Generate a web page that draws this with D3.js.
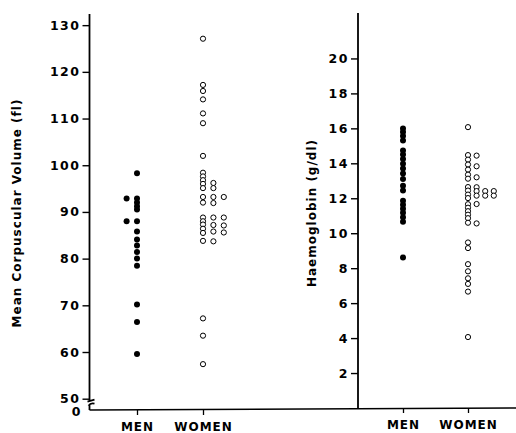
<!DOCTYPE html>
<html>
<head>
<meta charset="utf-8">
<script src="https://cdn.jsdelivr.net/npm/d3@7"></script>
<style>
  body { margin: 0; background: #fff; }
  svg { display: block; }
  text { font-family: "DejaVu Sans", sans-serif; font-weight: bold; fill: #000; }
</style>
</head>
<body>
<div id="chart"></div>
<script>
// categories and tick labels
const groups = ["MEN", "WOMEN"];
const mcvTicks = [50, 60, 70, 80, 90, 100, 110, 120, 130];
const hbTicks = [2, 4, 6, 8, 10, 12, 14, 16, 18, 20];

// Mean corpuscular volume (fl), one array per stack of dots
const mcvMenSide = [92.9, 88.0];
const mcvMen = [98.3, 92.9, 92.0, 91.2, 90.5, 88.0, 85.8, 84.1, 82.8, 81.4, 80.0, 78.5, 70.2, 66.4, 59.6];
const mcvWomen = [127.1, 117.2, 115.9, 114.1, 111.1, 109.0, 102.0, 98.4, 97.6, 96.8, 96.0, 95.1,
  93.2, 92.0, 88.8, 88.0, 87.3, 86.4, 85.5, 83.8, 67.2, 63.5, 57.4];
const mcvWomen2 = [96.2, 95.1, 93.2, 91.9, 88.8, 87.2, 85.8, 83.7];
const mcvWomen3 = [93.2, 88.8, 87.1, 85.6];

// Haemoglobin (g/dl)
const hbMen = [15.99, 15.79, 15.56, 15.30, 14.73, 14.50, 14.24, 13.98, 13.70, 13.41, 13.10,
  12.72, 12.44, 11.86, 11.63, 11.40, 11.17, 10.92, 10.66, 8.61];
const hbWomen = [16.07, 14.47, 14.21, 13.93, 13.64, 13.35, 13.12, 12.64, 12.44, 12.21, 12.01,
  11.66, 11.46, 11.26, 11.06, 10.86, 10.60, 9.47, 9.15, 8.23, 7.82, 7.42, 7.10, 6.66, 4.06];
const hbWomen2 = [14.44, 13.83, 13.20, 12.63, 12.41, 12.15, 11.67, 10.56];
const hbWomen3 = [12.41, 12.15];
const hbWomen4 = [12.41, 12.15];

const width = 516;
const height = 433;

const svg = d3.select("#chart")
  .append("svg")
  .attr("width", width)
  .attr("height", height);

// turn stacks into points: stack index shifts the dot sideways
function stack(group, col, values) {
  return values.map(v => ({ group, col, value: v, filled: group === "MEN" }));
}

const mcvPoints = [].concat(
  stack("MEN", -1, mcvMenSide),
  stack("MEN", 0, mcvMen),
  stack("WOMEN", 0, mcvWomen),
  stack("WOMEN", 1, mcvWomen2),
  stack("WOMEN", 2, mcvWomen3)
);

const hbPoints = [].concat(
  stack("MEN", 0, hbMen),
  stack("WOMEN", 0, hbWomen),
  stack("WOMEN", 1, hbWomen2),
  stack("WOMEN", 2, hbWomen3),
  stack("WOMEN", 3, hbWomen4)
);

const panels = [
  {
    axisX: 89.5,
    yScale: d3.scaleLinear().domain([47.58, 132.39]).range([410, 14]),
    xScale: d3.scalePoint().domain(groups).range([137, 203]),
    step: 10.4,
    ticks: mcvTicks,
    points: mcvPoints,
    title: "Mean Corpuscular Volume (fl)",
    titleX: 17,
    titleY: 213,
    broken: true
  },
  {
    axisX: 358,
    yScale: d3.scaleLinear().domain([0, 22.6]).range([408, 13]),
    xScale: d3.scalePoint().domain(groups).range([403, 468]),
    step: 8.6,
    ticks: hbTicks,
    points: hbPoints,
    title: "Haemoglobin (g/dl)",
    titleX: 312,
    titleY: 213,
    broken: false
  }
];

// common baseline running across both panels
svg.append("line")
  .attr("x1", panels[0].axisX)
  .attr("x2", width)
  .attr("y1", panels[0].yScale.range()[0])
  .attr("y2", panels[1].yScale.range()[0])
  .attr("stroke", "#000")
  .attr("stroke-width", 1.6);

panels.forEach(p => {
  const g = svg.append("g");

  // y axis
  const yAxis = g.append("g")
    .attr("transform", `translate(${p.axisX},0)`)
    .call(d3.axisLeft(p.yScale)
      .tickValues(p.ticks)
      .tickSize(7)
      .tickSizeOuter(0)
      .tickPadding(2));

  yAxis.selectAll(".tick line").attr("stroke", "#000").attr("stroke-width", 1.4);
  yAxis.selectAll(".tick text")
    .attr("font-family", "DejaVu Sans")
    .attr("font-weight", "bold")
    .attr("font-size", 12.5)
    .attr("letter-spacing", 1.5)
    .attr("fill", "#000");

  yAxis.select(".domain").remove();

  const [y0, y1] = p.yScale.range();
  if (p.broken) {
    // axis with a break between 50 and the origin
    const yb = p.yScale(50) + 2;
    const path = d3.path();
    path.moveTo(0, y1);
    path.lineTo(0, yb);
    path.moveTo(-2, yb + 1);
    path.lineTo(5, yb - 1);
    path.moveTo(-1, yb + 5);
    path.quadraticCurveTo(1, yb + 2, 5, yb + 3);
    path.moveTo(0, yb + 4);
    path.lineTo(0, y0);
    yAxis.append("path")
      .attr("d", path.toString())
      .attr("fill", "none")
      .attr("stroke", "#000")
      .attr("stroke-width", 1.8);

    yAxis.append("text")
      .attr("x", -9)
      .attr("y", y0 + 1.5)
      .attr("dy", "0.32em")
      .attr("text-anchor", "end")
      .attr("font-size", 12.5)
      .text("0");
  } else {
    yAxis.append("line")
      .attr("x1", 0).attr("x2", 0)
      .attr("y1", y1).attr("y2", y0)
      .attr("stroke", "#000")
      .attr("stroke-width", 1.8);
  }

  // x ticks and category labels
  const xAxis = g.append("g")
    .attr("transform", `translate(0,${y0})`)
    .call(d3.axisBottom(p.xScale).tickSize(5).tickSizeOuter(0).tickPadding(7));
  xAxis.select(".domain").remove();
  xAxis.selectAll(".tick line").attr("stroke", "#000").attr("stroke-width", 1.3);
  xAxis.selectAll(".tick text")
    .attr("font-family", "DejaVu Sans")
    .attr("font-weight", "bold")
    .attr("font-size", 12)
    .attr("letter-spacing", 1)
    .attr("fill", "#000");

  // axis title
  g.append("text")
    .attr("transform", `translate(${p.titleX},${p.titleY}) rotate(-90)`)
    .attr("text-anchor", "middle")
    .attr("dy", "0.35em")
    .attr("font-size", 12)
    .attr("letter-spacing", 1)
    .text(p.title);

  // dots
  g.selectAll("circle")
    .data(p.points)
    .join("circle")
    .attr("cx", d => p.xScale(d.group) + d.col * p.step)
    .attr("cy", d => p.yScale(d.value))
    .attr("r", d => d.filled ? 3 : 2.6)
    .attr("fill", d => d.filled ? "#000" : "#fff")
    .attr("stroke", "#000")
    .attr("stroke-width", d => d.filled ? 0 : 1);
});
</script>
</body>
</html>
